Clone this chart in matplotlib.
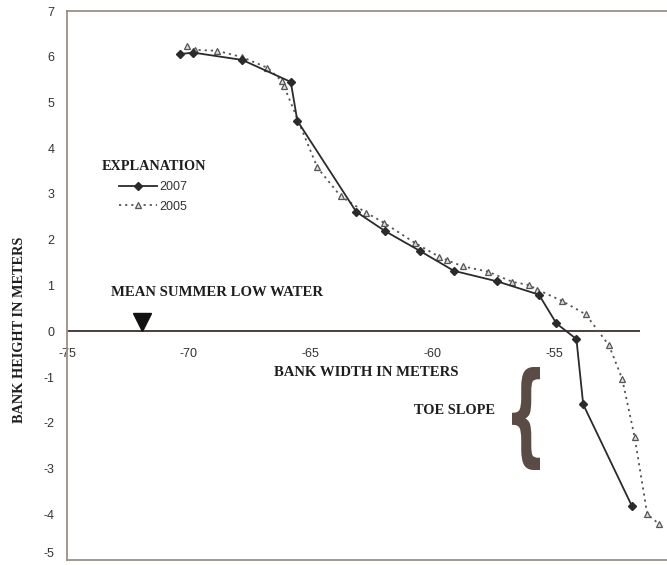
import matplotlib
matplotlib.use("Agg")
import matplotlib.pyplot as plt
from matplotlib.textpath import TextPath
from matplotlib.font_manager import FontProperties
from matplotlib.patches import PathPatch
from matplotlib.transforms import Affine2D, IdentityTransform

# ---- data ----
x2007 = [-70.36, -69.81, -67.80, -65.81, -65.54, -63.12, -61.94, -60.52, -59.11,
         -57.33, -55.62, -54.90, -54.08, -53.80, -51.81]
y2007 = [6.06, 6.09, 5.93, 5.45, 4.60, 2.61, 2.19, 1.76, 1.32,
         1.09, 0.80, 0.17, -0.17, -1.60, -3.81]

x2005 = [-70.06, -69.74, -68.83, -67.80, -66.77, -66.16, -66.09, -64.72, -63.76,
         -62.71, -61.98, -60.71, -59.72, -59.38, -58.75, -57.70, -56.71, -56.03,
         -55.68, -54.66, -53.70, -52.74, -52.20, -51.69, -51.17, -50.69]
y2005 = [6.24, 6.15, 6.13, 5.99, 5.76, 5.46, 5.36, 3.58, 2.95,
         2.59, 2.37, 1.93, 1.63, 1.55, 1.42, 1.30, 1.08, 1.01,
         0.91, 0.66, 0.37, -0.31, -1.04, -2.31, -4.00, -4.21]

xticks = [-75, -70, -65, -60, -55]
yticks = [-5, -4, -3, -2, -1, 0, 1, 2, 3, 4, 5, 6, 7]
series_labels = ["2007", "2005"]

W, H = 667, 565
fig = plt.figure(figsize=(W / 100, H / 100), dpi=100)

def fx(px):
    return px / W

def fy(py):
    return 1 - py / H

left_px, top_px, bottom_px = 67, 11, 560
xmin, xmax = -75, -50
ppu = 24.35
right_px = left_px + (xmax - xmin) * ppu
ax = fig.add_axes([fx(left_px), fy(bottom_px), (right_px - left_px) / W, (bottom_px - top_px) / H])
ax.set_xlim(xmin, xmax)
ax.set_ylim(-5, 7)

spine_col = "#9b8f89"
for s in ["left", "top", "bottom"]:
    ax.spines[s].set_color(spine_col)
    ax.spines[s].set_linewidth(1.3)
ax.spines["right"].set_visible(False)

sans = "Liberation Sans"
serif = "Liberation Serif"

ax.set_yticks(yticks)
ylabels = ax.set_yticklabels([str(v) for v in yticks], fontsize=9, family=sans, color="#333333")
ylabels[0].set_va("bottom")
ax.tick_params(axis="y", length=0, pad=9)
ax.set_xticks([])

sec = ax.secondary_xaxis(5 / 12)
sec.set_xticks(xticks)
sec.set_xticklabels([str(v) for v in xticks], fontsize=9, family=sans, color="#333333")
sec.tick_params(axis="x", length=0, pad=12)
for s in sec.spines.values():
    s.set_visible(False)

# zero (low water) line
ax.plot([-75, -51.5], [0, 0], color="#4a3e3a", lw=1.4, zorder=2)

# series
line_col = "#2b2b2b"
ax.plot(x2007, y2007, color=line_col, lw=1.3, marker="D", ms=4,
        mfc=line_col, mec=line_col, zorder=4, label=series_labels[0])
ax.plot(x2005, y2005, color="#555555", lw=1.3, ls=(0, (1.2, 2.2)), marker="^", ms=5,
        mfc="#dddddd", mec="#555555", mew=0.9, zorder=3, label=series_labels[1])

# legend
leg = ax.legend(loc="upper left", bbox_to_anchor=(fx(119), fy(181)),
                bbox_transform=fig.transFigure, frameon=False,
                handlelength=3.0, handletextpad=0.2, labelspacing=0.6,
                borderpad=0, borderaxespad=0,
                prop={"family": sans, "size": 9})
for t in leg.get_texts():
    t.set_color("#333333")

bold_serif = dict(family=serif, weight="bold", color="#1e1e1e")
fig.text(fx(102), fy(166), "EXPLANATION", ha="left", va="center", fontsize=10.3, **bold_serif)
fig.text(fx(111), fy(293), "MEAN SUMMER LOW WATER", ha="left", va="center", fontsize=10.6, **bold_serif)
fig.text(fx(366), fy(372), "BANK WIDTH IN METERS", ha="center", va="center", fontsize=10.6, **bold_serif)
fig.text(fx(455), fy(411), "TOE SLOPE", ha="center", va="center", fontsize=10.4, **bold_serif)
fig.text(fx(20), fy(330), "BANK HEIGHT IN METERS", ha="center", va="center", rotation=90,
         fontsize=10.3, **bold_serif)

# low water marker
ax.plot([-71.92], [0.2], marker="v", ms=13, color="#111111", zorder=5, clip_on=False)

# brace: glyph path stretched to fit the box seen in the reference (pixels)
bx0, bx1, by0, by1 = 512, 540, 367, 470
tp = TextPath((0, 0), "{", size=100, prop=FontProperties(family="DejaVu Sans", weight="bold"))
ext = tp.get_extents()
sx = (bx1 - bx0) / ext.width
sy = (by1 - by0) / ext.height
tr = (Affine2D().translate(-ext.x0, -ext.y0).scale(sx, sy)
      .translate(bx0, H - by1))
patch = PathPatch(tr.transform_path(tp), facecolor="#5a4c45", edgecolor="none",
                  transform=IdentityTransform())
fig.patches.append(patch)

fig.savefig("out.png", dpi=100)
